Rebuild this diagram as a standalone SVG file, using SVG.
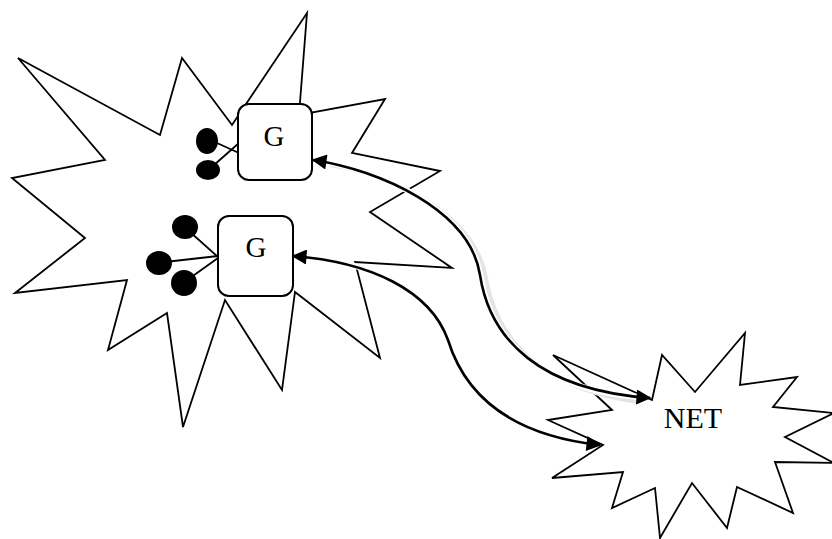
<svg xmlns="http://www.w3.org/2000/svg" width="832" height="539" viewBox="0 0 832 539">
<style>
.star{fill:#fff;stroke:#000;stroke-width:1.8;stroke-linejoin:miter}
.box{fill:#fff;stroke:#000;stroke-width:2}
.dot{fill:#000}
.stem{stroke:#000;stroke-width:1.8;fill:none}
.lbl{font-family:"Liberation Serif","Times New Roman",serif;fill:#000;text-anchor:middle}
.arr{fill:none;stroke:#000;stroke-width:2.6;marker-start:url(#ah);marker-end:url(#ah)}
.halo{fill:none;stroke:#fff;stroke-width:6}
.shadow{fill:none;stroke:#e4e4e4;stroke-width:4}
</style>
<defs>
<marker id="ah" viewBox="0 0 10 10" refX="9" refY="5" markerWidth="19" markerHeight="15" markerUnits="userSpaceOnUse" orient="auto-start-reverse">
<path d="M0,0 L10,5 L0,10 z" fill="#000"/>
</marker>
</defs>
<rect width="832" height="539" fill="#fff"/>
<g id="cell">
<polygon class="star" points="18,58 160,135 182,58 232,125 307,13 299,115 385,99 352,153 440,171 370,212 452,268 355,262 380,358 295,292 282,390 225,300 183,427 167,313 108,350 127,280 15,293 85,238 12,178 105,160"/>
</g>
<g id="net">
<polygon class="star" points="553,355 612,410 548,420 603,445 552,478 623,472 612,508 655,488 660,538 692,483 727,528 737,487 793,513 775,462 834,463 785,437 834,413 773,407 797,377 740,385 745,333 695,392 662,355 652,400"/>
<text class="lbl" x="693" y="428" font-size="30">NET</text>
</g>
<g id="g1">
<line class="stem" x1="217" y1="143" x2="239" y2="153"/>
<line class="stem" x1="214" y1="165" x2="239" y2="143"/>
<ellipse class="dot" cx="207" cy="141" rx="11" ry="13"/>
<ellipse class="dot" cx="208" cy="170" rx="12" ry="10"/>
<rect class="box" x="238" y="104" width="74" height="76" rx="11"/>
<text class="lbl" x="274" y="146" font-size="29">G</text>
</g>
<g id="g2">
<line class="stem" x1="190" y1="232" x2="218" y2="257"/>
<line class="stem" x1="165" y1="262" x2="218" y2="256"/>
<line class="stem" x1="190" y1="278" x2="218" y2="258"/>
<ellipse class="dot" cx="185" cy="227" rx="13" ry="12"/>
<ellipse class="dot" cx="159" cy="263" rx="13" ry="12"/>
<ellipse class="dot" cx="184" cy="283" rx="13" ry="13"/>
<rect class="box" x="218" y="216" width="75" height="80" rx="11"/>
<text class="lbl" x="256" y="257" font-size="29">G</text>
</g>
<g id="connectors">
<path class="shadow" d="M330,165 C395,176 475,215 486,278 C497,343 546,391 640,402"/>
<path class="halo" d="M320,161 C380,170 470,210 480,275 C490,340 540,390 640,397"/>
<path class="halo" d="M300,256 C370,262 430,290 448,340 C465,395 510,435 590,444"/>
<path class="arr" d="M313,160 C380,170 470,210 480,275 C490,340 540,390 650,398"/>
<path class="arr" d="M293,256 C370,262 430,290 448,340 C465,395 510,435 600,445"/>
</g>
</svg>
